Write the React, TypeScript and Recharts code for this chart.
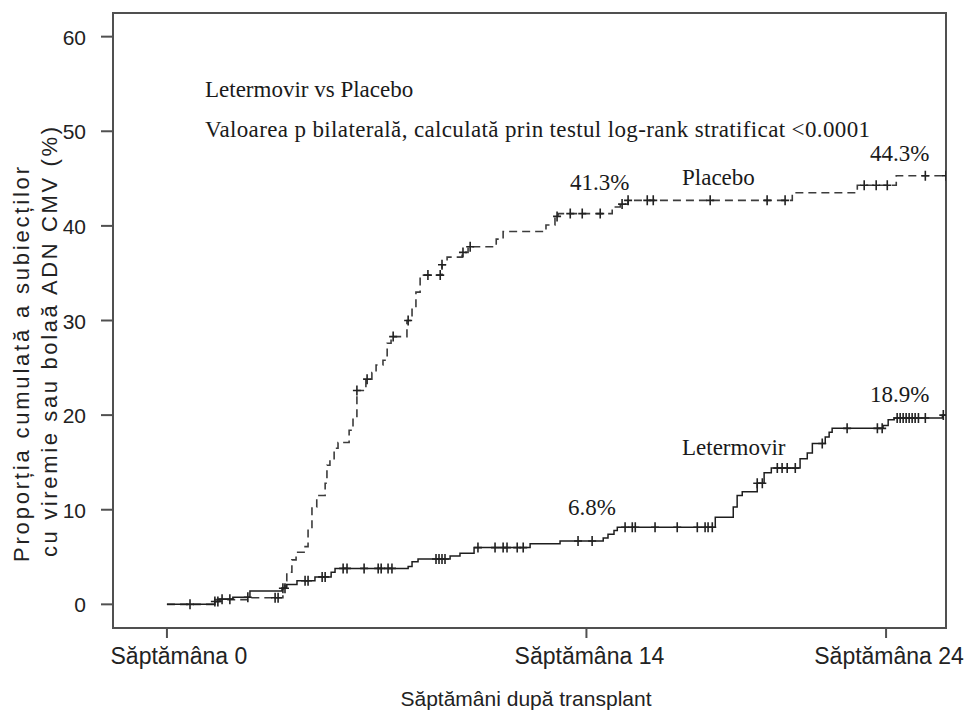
import { ComposedChart, Line, Scatter, XAxis, YAxis, ReferenceArea } from "recharts";

// Kaplan-Meier style step data, time in weeks, value in %
const placeboWeeks = [
  0, 1.6, 2.77, 3.87, 3.94, 4.0, 4.17, 4.31, 4.61, 4.71, 4.84, 5.0, 5.28, 5.34, 5.44, 5.58,
  5.71, 6.08, 6.21, 6.34, 6.64, 6.84, 6.98, 7.21, 7.35, 7.48, 8.01, 8.18, 8.31, 8.45, 9.18,
  9.35, 9.85, 10.05, 10.99, 11.22, 12.65, 12.95, 13.06, 14.86, 15.13, 15.39, 20.87, 23.04,
  24.34, 26.0,
];
const placeboPct = [
  0, 0.5, 0.7, 1.7, 2.5, 3.4, 4.7, 5.5, 6.1, 8.0, 10.3, 11.5, 12.8, 14.7, 15.3, 16.5,
  17.1, 18.4, 19.7, 22.6, 23.8, 24.5, 25.3, 25.8, 27.6, 28.3, 30.0, 31.3, 33.0, 34.8, 35.9,
  36.7, 37.2, 37.8, 38.6, 39.4, 40.1, 41.0, 41.3, 42.0, 42.3, 42.7, 43.5, 44.3,
  45.3, 45.3,
];
const placeboCensored = [
  3.61, 3.71, 6.34, 6.68, 7.55, 8.05, 8.71, 9.12, 9.18, 9.88, 10.12, 13.02, 13.46, 13.86,
  14.46, 15.19, 15.39, 16.03, 16.23, 18.13, 20.03, 20.63, 23.27, 23.67, 24.04, 25.31, 26.0,
];

const letermovirWeeks = [
  0, 1.6, 1.77, 2.2, 2.77, 3.84, 4.0, 4.34, 4.94, 5.48, 5.61, 8.05, 8.18, 8.38, 9.45, 9.78,
  10.25, 12.12, 13.12, 14.56, 14.72, 14.92, 15.03, 18.3, 18.9, 19.03, 19.2, 19.7, 19.93,
  20.17, 21.13, 21.37, 21.54, 21.97, 22.1, 22.2, 23.9, 24.07, 24.27, 25.88, 26.0,
];
const letermovirPct = [
  0, 0.3, 0.55, 0.75, 1.4, 1.7, 2.1, 2.5, 2.9, 3.4, 3.8, 4.0, 4.5, 4.8, 5.1, 5.4,
  6.0, 6.4, 6.7, 7.0, 7.4, 7.8, 8.15, 9.2, 10.3, 11.5, 11.9, 12.8, 13.9,
  14.4, 15.4, 16.0, 17.0, 17.7, 18.2, 18.6, 18.9, 19.5, 19.7, 20.0, 20.0,
];
const letermovirCensored = [
  0.77, 1.6, 1.7, 1.84, 2.1, 2.7, 3.87, 3.94, 4.61, 4.71, 5.18, 5.28, 5.88, 6.01, 6.58,
  7.05, 7.15, 7.38, 7.51, 8.98, 9.08, 9.18, 9.28, 10.38, 10.95, 11.22, 11.35, 11.69, 11.89,
  13.72, 14.19, 15.29, 15.53, 15.63, 16.29, 17.03, 17.7, 17.96, 18.06, 18.2, 19.7, 19.87,
  20.37, 20.53, 20.7, 20.97, 21.87, 22.7, 23.71, 23.87, 24.37, 24.47, 24.57, 24.67, 24.77,
  24.87, 24.97, 25.08, 25.31, 25.91,
];

const xTicks = [0, 14, 24];
const xTickLabels = ["Săptămâna 0", "Săptămâna 14", "Săptămâna 24"];
const yTicks = [0, 10, 20, 30, 40, 50, 60];

const toSeries = (weeks: number[], pct: number[]) =>
  weeks.map((t, i) => ({ t, v: pct[i] }));

// y of a censor mark = value of the step curve at that time
const valueAt = (weeks: number[], pct: number[], t: number) => {
  let v = pct[0];
  for (let i = 0; i < weeks.length; i++) {
    if (weeks[i] <= t + 1e-9) v = pct[i];
  }
  return v;
};

const toCensor = (times: number[], weeks: number[], pct: number[]) =>
  times.map((t) => ({ t, v: valueAt(weeks, pct, t) }));

const placeboData = toSeries(placeboWeeks, placeboPct);
const letermovirData = toSeries(letermovirWeeks, letermovirPct);
const placeboMarks = toCensor(placeboCensored, placeboWeeks, placeboPct);
const letermovirMarks = toCensor(letermovirCensored, letermovirWeeks, letermovirPct);

const sans = "'Liberation Sans', Arial, sans-serif";
const serif = "'Liberation Serif', 'Times New Roman', serif";
const frame = "#505050";

const Plus = (props: any) => {
  const { cx, cy, stroke } = props;
  if (cx == null || cy == null) return null;
  return (
    <path
      d={`M${cx - 4},${cy}h8M${cx},${cy - 5}v10`}
      stroke={stroke}
      strokeWidth={1.6}
      fill="none"
    />
  );
};

const XTick = (props: any) => {
  const { x, y, payload } = props;
  const idx = xTicks.indexOf(payload.value);
  // first label sits a little right of its tick in the original
  const shift = idx === 0 ? 12 : 3;
  return (
    <text x={x + shift} y={y + 24} textAnchor="middle" fontFamily={sans} fontSize={23} fill="#222">
      {xTickLabels[idx]}
    </text>
  );
};

const YTick = (props: any) => {
  const { x, y, payload } = props;
  return (
    <text x={x} y={y + 8} textAnchor="end" fontFamily={sans} fontSize={21} fill="#222">
      {payload.value}
    </text>
  );
};

const App = () => {
  return (
    <div style={{ margin: -8, position: "relative", width: 972, height: 719, background: "#fff" }}>
      <ComposedChart
        width={972}
        height={719}
        margin={{ top: 13, right: 26, bottom: 0, left: 0 }}
      >
        <XAxis
          type="number"
          dataKey="t"
          domain={[-1.8, 26]}
          ticks={xTicks}
          allowDataOverflow
          height={91}
          tickSize={10}
          tickMargin={2}
          axisLine={{ stroke: frame, strokeWidth: 2 }}
          tickLine={{ stroke: frame, strokeWidth: 2 }}
          tick={XTick}
        />
        <YAxis
          type="number"
          dataKey="v"
          domain={[-2.5, 62.5]}
          ticks={yTicks}
          allowDataOverflow
          width={113}
          tickSize={12}
          tickMargin={15}
          axisLine={{ stroke: frame, strokeWidth: 2 }}
          tickLine={{ stroke: frame, strokeWidth: 2 }}
          tick={YTick}
        />
        <ReferenceArea
          x1={-1.8}
          x2={26}
          y1={-2.5}
          y2={62.5}
          fill="none"
          stroke={frame}
          strokeWidth={2}
          ifOverflow="visible"
        />
        <Line
          data={placeboData}
          dataKey="v"
          type="stepAfter"
          stroke="#3c3c3c"
          strokeWidth={1.6}
          strokeDasharray="8 5"
          dot={false}
          activeDot={false}
          isAnimationActive={false}
        />
        <Line
          data={letermovirData}
          dataKey="v"
          type="stepAfter"
          stroke="#1e1e1e"
          strokeWidth={1.5}
          dot={false}
          activeDot={false}
          isAnimationActive={false}
        />
        <Scatter
          data={placeboMarks}
          dataKey="v"
          stroke="#222"
          shape={Plus}
          isAnimationActive={false}
        />
        <Scatter
          data={letermovirMarks}
          dataKey="v"
          stroke="#222"
          shape={Plus}
          isAnimationActive={false}
        />
      </ComposedChart>
      <svg
        width={972}
        height={719}
        style={{ position: "absolute", left: 0, top: 0, pointerEvents: "none" }}
      >
        <g fontFamily={serif} fontSize={23} fill="#1a1a1a">
          <text x={205} y={97}>Letermovir vs Placebo</text>
          <text x={205} y={137} textLength={665} lengthAdjust="spacing">
            Valoarea p bilaterală, calculată prin testul log-rank stratificat &lt;0.0001
          </text>
          <text x={570} y={190}>41.3%</text>
          <text x={682} y={185}>Placebo</text>
          <text x={870} y={161}>44.3%</text>
          <text x={568} y={515}>6.8%</text>
          <text x={682} y={455}>Letermovir</text>
          <text x={870} y={402}>18.9%</text>
        </g>
        <g fontFamily={sans} fontSize={22} fill="#222">
          <text x={526} y={706} textAnchor="middle" fontSize={21}>
            Săptămâni după transplant
          </text>
          <text transform="translate(29,562) rotate(-90)" textLength={395} lengthAdjust="spacing">
            Proporția cumulată a subiecților
          </text>
          <text transform="translate(57,557) rotate(-90)" textLength={430} lengthAdjust="spacing">
            cu viremie sau bolaă  ADN CMV (%)
          </text>
        </g>
      </svg>
    </div>
  );
};

export default App;
